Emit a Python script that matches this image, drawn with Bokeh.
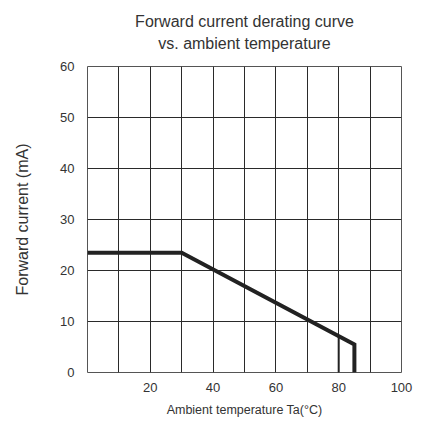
from bokeh.plotting import figure
from bokeh.models import FixedTicker, Title, Range1d
from bokeh.embed import file_html
from bokeh.resources import INLINE

# Data
curve_x = [0, 30, 85, 85]
curve_y = [23.5, 23.5, 5.5, 0]
cut_x = [80, 80]
cut_y = [0, 7.1]
x_ticks = [20, 40, 60, 80, 100]
y_ticks = [0, 10, 20, 30, 40, 50, 60]
x_grid = [10, 20, 30, 40, 50, 60, 70, 80, 90]
y_grid = [10, 20, 30, 40, 50]
title_lines = ["Forward current derating curve", "vs. ambient temperature"]

FONT = "Liberation Sans"
TXT = "#333333"

p = figure(frame_width=314, frame_height=306, output_backend="svg", toolbar_location=None,
           x_range=Range1d(0, 100), y_range=Range1d(0, 60),
           min_border_left=87, min_border_top=66, min_border_bottom=45, min_border_right=12)

# spacer between the frame and the titles (innermost first)
p.add_layout(Title(text=" ", align="center", text_font=FONT, standoff=2,
                   text_font_size="10px", text_color=TXT), "above")
for line, so in zip(reversed(title_lines), [0, 6]):
    p.add_layout(Title(text=line, align="center", text_font=FONT, standoff=so,
                       text_font_size="16px", text_font_style="normal", text_color=TXT), "above")

p.outline_line_color="#555555"
p.outline_line_width=1

p.xgrid.ticker = FixedTicker(ticks=x_grid)
p.ygrid.ticker = FixedTicker(ticks=y_grid)
for g in (p.xgrid, p.ygrid):
    g.grid_line_color = "#2a2a2a"
    g.grid_line_width = 1
    g.grid_line_alpha = 1

p.xaxis.ticker = FixedTicker(ticks=x_ticks)
p.yaxis.ticker = FixedTicker(ticks=y_ticks)
for ax in (p.xaxis, p.yaxis):
    ax.axis_line_color = None
    ax.major_tick_line_color = None
    ax.minor_tick_line_color = None
    ax.major_label_text_font = FONT
    ax.major_label_text_font_size = "13px"
    ax.major_label_text_color = TXT
    ax.axis_label_text_font = FONT
    ax.axis_label_text_font_style = "normal"
    ax.axis_label_text_color = TXT

p.xaxis.axis_label = "Ambient temperature Ta(°C)"
p.xaxis.axis_label_text_font_size = "12.5px"
p.xaxis.major_label_standoff = 4
p.xaxis.axis_label_standoff = 8
p.yaxis.axis_label = "Forward current (mA)"
p.yaxis.axis_label_text_font_size = "16px"
p.yaxis.major_label_standoff = 7
p.yaxis.axis_label_standoff = 26

p.line(curve_x, curve_y, line_color="#222222", line_width=4, line_join="miter")
p.line(cut_x, cut_y, line_color="#222222", line_width=2)

open("out.html", "w").write(file_html(p, INLINE))
